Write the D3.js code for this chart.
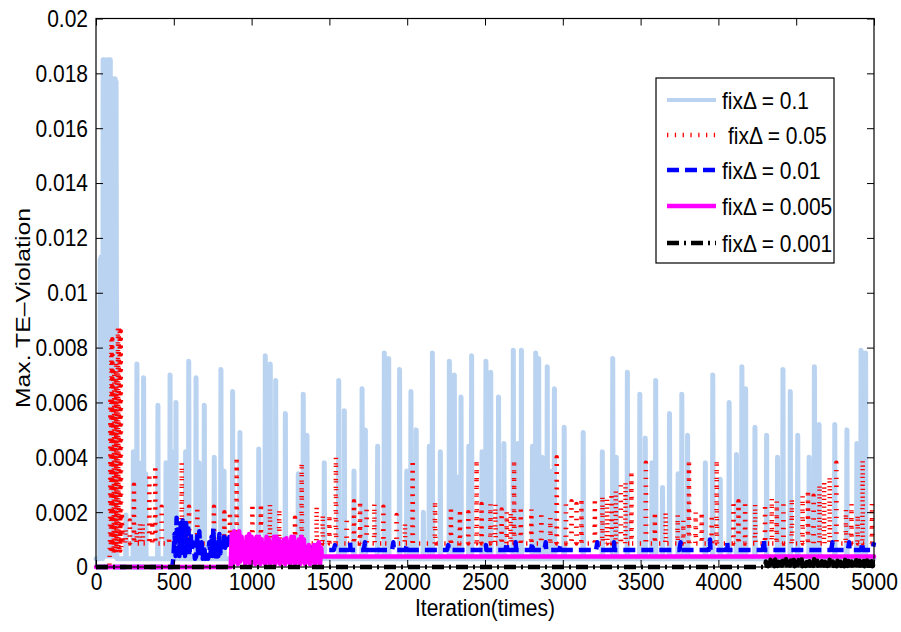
<!DOCTYPE html>
<html lang="en">
<head>
    <meta charset="UTF-8">
    <title>Max. TE-Violation vs iteration</title>
    <script src="https://d3js.org/d3.v7.min.js"></script>
    <style>
        body {
            margin: 0;
            background: #fff;
        }

        svg {
            display: block;
            font-family: 'Liberation Sans', Arial, sans-serif;
        }

        .tick text {
            font-size: 21px;
            fill: #000;
        }

        .tick line {
            stroke: #000;
        }
    </style>
</head>
<body>
    <svg id="chart" width="901" height="632"></svg>

    <script>
        const xTicks = [0, 500, 1000, 1500, 2000, 2500, 3000, 3500, 4000, 4500, 5000];
        const yTicks = [0, 0.002, 0.004, 0.006, 0.008, 0.01, 0.012, 0.014, 0.016, 0.018, 0.02];
        const yTickLabels = ['0', '0.002', '0.004', '0.006', '0.008', '0.01', '0.012', '0.014', '0.016', '0.018', '0.02'];
        const seriesNames = ['fixΔ = 0.1', 'fixΔ = 0.05', 'fixΔ = 0.01', 'fixΔ = 0.005', 'fixΔ = 0.001'];

        // [iteration, max violation]
        const fix0_1 = [
            [0,.0003],[24,.0003],[27,.0112],[30,.0004],[33,.0113],[36,.0005],[39,.0112],[43,.0003],[46,.0185],[49,.0005],
            [52,.0185],[55,.0004],[58,.0184],[62,.0005],[65,.0179],[68,.0004],[72,.0185],[75,.0005],[79,.0185],[82,.0004],
            [86,.0185],[89,.0006],[92,.0185],[95,.0004],[98,.0105],[101,.0005],[104,.0097],[107,.0004],[110,.0097],[113,.0005],
            [117,.0178],[120,.0004],[123,.0178],[126,.0005],[129,.0177],[134,.0003],
            [191,.0003],[193,.0019],[195,.0003],[238,.0003],[240,.0042],[242,.0003],[261,.0003],[263,.0074],[265,.0003],
            [274,.0003],[276,.0038],[278,.0003],[304,.0003],[306,.0069],[308,.0003],[318,.0003],[320,.0034],[322,.0003],
            [396,.0003],[398,.0059],[400,.0003],[448,.0003],[450,.0038],[452,.0003],[474,.0003],[476,.0070],[478,.0003],
            [488,.0003],[490,.0042],[492,.0003],[512,.0003],[514,.0060],[516,.0003],[574,.0003],[576,.0042],[578,.0003],
            [594,.0003],[596,.0075],[598,.0003],[641,.0003],[643,.0069],[645,.0003],[660,.0003],[662,.0038],[664,.0003],
            [694,.0003],[696,.0059],[698,.0003],[758,.0003],[760,.0040],[762,.0003],[801,.0003],[803,.0072],[805,.0003],
            [821,.0003],[823,.0035],[825,.0003],[876,.0003],[878,.0064],[880,.0003],[923,.0003],[925,.0049],[927,.0003],
            [1044,.0003],[1046,.0043],[1048,.0003],[1086,.0003],[1088,.0077],[1090,.0003],[1118,.0003],[1120,.0074],[1122,.0003],
            [1153,.0003],[1155,.0068],[1157,.0003],[1215,.0003],[1217,.0056],[1219,.0003],[1298,.0003],[1300,.0034],[1302,.0003],
            [1330,.0003],[1332,.0063],[1334,.0003],[1354,.0003],[1356,.0048],[1358,.0003],[1465,.0003],[1467,.0038],[1469,.0003],
            [1558,.0003],[1560,.0068],[1562,.0003],[1594,.0003],[1596,.0057],[1598,.0003],[1656,.0003],[1658,.0035],[1660,.0003],
            [1708,.0003],[1710,.0065],[1712,.0003],[1729,.0003],[1731,.0050],[1733,.0003],[1808,.0003],[1810,.0044],[1812,.0003],
            [1851,.0003],[1853,.0078],[1855,.0003],[1879,.0003],[1881,.0076],[1883,.0003],[1949,.0003],[1951,.0072],[1953,.0003],
            [1995,.0003],[1997,.0035],[1999,.0003],[2022,.0003],[2024,.0064],[2026,.0003],[2056,.0003],[2058,.0050],[2060,.0003],
            [2102,.0003],[2104,.0020],[2106,.0003],[2140,.0003],[2142,.0044],[2144,.0003],[2160,.0003],[2162,.0078],[2164,.0003],
            [2211,.0003],[2213,.0042],[2215,.0003],[2269,.0003],[2271,.0075],[2273,.0003],[2301,.0003],[2303,.0070],[2305,.0003],
            [2333,.0003],[2335,.0033],[2337,.0003],[2344,.0003],[2346,.0062],[2348,.0003],[2394,.0003],[2396,.0044],[2398,.0003],
            [2412,.0003],[2414,.0077],[2416,.0003],[2479,.0003],[2481,.0042],[2483,.0003],[2504,.0003],[2506,.0075],[2508,.0003],
            [2535,.0003],[2537,.0071],[2539,.0003],[2585,.0003],[2587,.0062],[2589,.0003],[2620,.0003],[2622,.0045],[2624,.0003],
            [2680,.0003],[2682,.0079],[2684,.0003],[2710,.0003],[2712,.0045],[2714,.0003],[2732,.0003],[2734,.0079],[2736,.0003],
            [2803,.0003],[2805,.0044],[2807,.0003],[2824,.0003],[2826,.0078],[2828,.0003],[2843,.0003],[2845,.0076],[2847,.0003],
            [2866,.0003],[2868,.0040],[2870,.0003],[2898,.0003],[2900,.0073],[2902,.0003],[2915,.0003],[2917,.0035],[2919,.0003],
            [2944,.0003],[2946,.0065],[2948,.0003],[3007,.0003],[3009,.0051],[3011,.0003],[3129,.0003],[3131,.0049],[3133,.0003],
            [3252,.0003],[3254,.0042],[3256,.0003],[3319,.0003],[3321,.0076],[3323,.0003],[3342,.0003],[3344,.0040],[3346,.0003],
            [3413,.0003],[3415,.0071],[3417,.0003],[3493,.0003],[3495,.0063],[3497,.0003],[3528,.0003],[3530,.0047],[3532,.0003],
            [3571,.0003],[3573,.0038],[3575,.0003],[3595,.0003],[3597,.0068],[3599,.0003],[3639,.0003],[3641,.0029],[3643,.0003],
            [3684,.0003],[3686,.0056],[3688,.0003],[3739,.0003],[3741,.0034],[3743,.0003],[3763,.0003],[3765,.0063],[3767,.0003],
            [3800,.0003],[3802,.0048],[3804,.0003],[3914,.0003],[3916,.0038],[3918,.0003],[3962,.0003],[3964,.0070],[3966,.0003],
            [4010,.0003],[4012,.0032],[4014,.0003],[4067,.0003],[4069,.0060],[4071,.0003],[4114,.0003],[4116,.0041],[4118,.0003],
            [4149,.0003],[4151,.0073],[4153,.0003],[4173,.0003],[4175,.0065],[4177,.0003],[4233,.0003],[4235,.0051],[4237,.0003],
            [4308,.0003],[4310,.0048],[4312,.0003],[4378,.0003],[4380,.0040],[4382,.0003],[4413,.0003],[4415,.0072],[4417,.0003],
            [4460,.0003],[4462,.0064],[4464,.0003],[4508,.0003],[4510,.0048],[4512,.0003],[4581,.0003],[4583,.0040],[4585,.0003],
            [4615,.0003],[4617,.0073],[4619,.0003],[4645,.0003],[4647,.0052],[4649,.0003],[4746,.0003],[4748,.0052],[4750,.0003],
            [4824,.0003],[4826,.0050],[4828,.0003],[4888,.0003],[4890,.0045],[4892,.0003],[4915,.0003],[4917,.0079],[4919,.0003],
            [4944,.0003],[4946,.0078],[4948,.0003],[5000,.0003]
        ];

        const fix0_05 = [
            [0,0],[86,0],[90,.0009],[93,.0062],[96,.0006],[99,.0083],[102,.0005],[105,.0083],[108,.0006],[111,.0071],
            [114,.0005],[117,.0072],[120,.0006],[123,.0065],[126,.0005],[129,.0075],[132,.0006],[135,.0069],[138,.0005],[141,.0087],
            [144,.0006],[147,.0088],[150,.0005],[153,.0087],[156,.0006],[159,.0086],[162,.0007],[166,.0020],[170,.00086],
            [188,.00086],[190,.0014],[192,.00086],[216,.00086],[218,.0017],[220,.00086],[242,.00086],[244,.0030],[246,.00086],
            [260,.00086],[262,.0013],[264,.00086],[281,.00086],[283,.0016],[285,.00086],[298,.00086],[300,.0016],[302,.00086],
            [341,.00086],[343,.0034],[345,.00086],[360,.00086],[362,.0015],[364,.00086],[379,.00086],[381,.0037],[383,.00086],
            [420,.00086],[422,.0022],[424,.00086],[468,.00086],[470,.0011],[472,.00086],[549,.00086],[551,.0038],[553,.00086],
            [596,.00086],[598,.0022],[600,.00086],[649,.00086],[651,.0022],[653,.00086],[756,.00086],[758,.0022],[760,.00086],
            [823,.00086],[825,.0020],[827,.00086],[859,.00086],[861,.0020],[863,.00086],[902,.00086],[904,.0040],[906,.00086],
            [1003,.00086],[1005,.0023],[1007,.00086],[1058,.00086],[1060,.0023],[1062,.00086],[1116,.00086],[1118,.0023],[1120,.00086],
            [1176,.00086],[1178,.0021],[1180,.00086],[1277,.00086],[1279,.0018],[1281,.00086],[1320,.00086],[1322,.0038],[1324,.00086],
            [1416,.00086],[1418,.0022],[1420,.00086],[1455,.00086],[1457,.0019],[1459,.00086],[1498,.00086],[1500,.0019],[1502,.00086],
            [1540,.00086],[1542,.0040],[1544,.00086],[1609,.00086],[1611,.0018],[1613,.00086],[1656,.00086],[1658,.0024],[1660,.00086],
            [1695,.00086],[1697,.0024],[1699,.00086],[1737,.00086],[1739,.0022],[1741,.00086],[1787,.00086],[1789,.0023],[1791,.00086],
            [1845,.00086],[1847,.0022],[1849,.00086],[1930,.00086],[1932,.0019],[1934,.00086],[1984,.00086],[1986,.0016],[1988,.00086],
            [2033,.00086],[2035,.0039],[2037,.00086],[2177,.00086],[2179,.0024],[2181,.00086],[2279,.00086],[2281,.0022],[2283,.00086],
            [2337,.00086],[2339,.0021],[2341,.00086],[2391,.00086],[2393,.0020],[2395,.00086],[2444,.00086],[2446,.0039],[2448,.00086],
            [2476,.00086],[2478,.0023],[2480,.00086],[2533,.00086],[2535,.0023],[2537,.00086],[2565,.00086],[2567,.0023],[2569,.00086],
            [2605,.00086],[2607,.0021],[2609,.00086],[2638,.00086],[2640,.0020],[2642,.00086],[2663,.00086],[2665,.0020],[2667,.00086],
            [2685,.00086],[2687,.0039],[2689,.00086],[2728,.00086],[2730,.0022],[2732,.00086],[2796,.00086],[2798,.0021],[2800,.00086],
            [2860,.00086],[2862,.0020],[2864,.00086],[2918,.00086],[2920,.0018],[2922,.00086],[2959,.00086],[2961,.0040],[2963,.00086],
            [3018,.00086],[3020,.0024],[3022,.00086],[3054,.00086],[3056,.0024],[3058,.00086],[3086,.00086],[3088,.0023],[3090,.00086],
            [3118,.00086],[3120,.0025],[3122,.00086],[3204,.00086],[3206,.0025],[3208,.00086],[3253,.00086],[3255,.0026],[3257,.00086],
            [3283,.00086],[3285,.0025],[3287,.00086],[3311,.00086],[3313,.0027],[3315,.00086],[3339,.00086],[3341,.0028],[3343,.00086],
            [3371,.00086],[3373,.0031],[3375,.00086],[3401,.00086],[3403,.0031],[3405,.00086],[3439,.00086],[3441,.0035],[3443,.00086],
            [3532,.00086],[3534,.0038],[3536,.00086],[3590,.00086],[3592,.0020],[3594,.00086],[3659,.00086],[3661,.0020],[3663,.00086],
            [3736,.00086],[3738,.0019],[3740,.00086],[3773,.00086],[3775,.0017],[3777,.00086],[3809,.00086],[3811,.0039],[3813,.00086],
            [3852,.00086],[3854,.0020],[3856,.00086],[3891,.00086],[3893,.0020],[3895,.00086],[3955,.00086],[3957,.0019],[3959,.00086],
            [3987,.00086],[3989,.0039],[3991,.00086],[4095,.00086],[4097,.0024],[4099,.00086],[4127,.00086],[4129,.0024],[4131,.00086],
            [4170,.00086],[4172,.0024],[4174,.00086],[4234,.00086],[4236,.0023],[4238,.00086],[4298,.00086],[4300,.0023],[4302,.00086],
            [4341,.00086],[4343,.0025],[4345,.00086],[4373,.00086],[4375,.0024],[4377,.00086],[4416,.00086],[4418,.0024],[4420,.00086],
            [4470,.00086],[4472,.0025],[4474,.00086],[4539,.00086],[4541,.0026],[4543,.00086],[4574,.00086],[4576,.0028],[4578,.00086],
            [4610,.00086],[4612,.0026],[4614,.00086],[4648,.00086],[4650,.0030],[4652,.00086],[4678,.00086],[4680,.0031],[4682,.00086],
            [4713,.00086],[4715,.0033],[4717,.00086],[4756,.00086],[4758,.0038],[4760,.00086],[4818,.00086],[4820,.0021],[4822,.00086],
            [4853,.00086],[4855,.0023],[4857,.00086],[4893,.00086],[4895,.0019],[4897,.00086],[4925,.00086],[4927,.0039],[4929,.00086],
            [4985,.00086],[4987,.0023],[4989,.00086],[5000,.00086]
        ];

        const fix0_01 = [
            [0,0],[490,0],[497,.0003],[505,.0012],[512,.0004],[518,.0018],[524,.0005],[530,.0015],[536,.0004],[545,.0016],
            [551,.0006],[557,.0017],[562,.0005],[566,.0014],[572,.0004],[579,.0016],[585,.0005],[594,.0014],[600,.0004],[609,.0012],
            [615,.0006],[620,.0008],[625,.0009],[636,.0003],[644,.0004],[651,.0012],[657,.0004],[664,.0013],[670,.0005],[679,.0009],
            [686,.0003],[695,.0008],[703,.0003],[711,.00055],[720,.0003],[728,.0009],[735,.0004],[743,.0011],[748,.0004],[754,.00144],
            [760,.0004],[767,.0009],[773,.0003],[780,.0008],[786,.0004],[793,.0012],[800,.0005],[808,.0009],[815,.0006],[823,.0011],
            [830,.0007],[839,.0011],[845,.0008],[850,.0012],[856,.0009],[861,.0012],[868,.0011],[880,.0007],
            [1140,.0007],[1150,.0009],[1153,.0007],[1420,.0007],[1428,.0009],[1431,.00062],
            [1528,.00062],[1536,.0008],[1539,.00062],[1625,.00062],[1633,.0009],[1636,.00062],[1721,.00062],[1729,.0009],[1732,.00062],
            [1796,.00062],[1804,.0008],[1807,.00062],[1903,.00062],[1911,.0009],[1914,.00062],[1989,.00062],[1997,.0008],[2000,.00062],
            [2256,.00062],[2264,.0008],[2267,.00062],[2498,.00062],[2506,.0008],[2509,.00062],[2632,.00062],[2640,.0009],[2643,.00062],
            [2689,.00062],[2697,.0009],[2700,.00062],[2796,.00062],[2804,.0009],[2807,.00062],[2882,.00062],[2890,.0009],[2893,.00062],
            [2977,.00062],[2985,.0008],[2988,.00062],[3214,.00062],[3222,.0009],[3225,.00062],[3321,.00062],[3329,.0009],[3332,.00062],
            [3749,.00062],[3757,.0009],[3760,.00062],[3938,.00062],[3946,.0010],[3949,.00062],[4049,.00062],[4057,.0009],[4060,.00062],
            [4285,.00062],[4293,.0010],[4296,.00062],[4725,.00062],[4733,.0009],[4736,.00062],[4832,.00062],[4840,.0009],[4843,.00062],
            [4917,.00062],[4925,.0009],[4928,.00062],[4992,.00062],[5000,.0009]
        ];

        const fix0_005 = [
            [0,0],[866,0],[872,.0012],[880,.0001],[888,.0013],[896,.0002],[904,.0012],[912,.0001],[920,.0013],[928,.0002],
            [936,.0011],[944,.0003],[952,.0009],[960,.0001],[968,.0011],[976,.0002],[984,.0012],[992,.0001],[1000,.0011],[1008,.0002],
            [1016,.0010],[1024,.0001],[1032,.0011],[1040,.0002],[1048,.0011],[1056,.0001],[1064,.0010],[1072,.0002],[1080,.0008],[1088,.0001],
            [1096,.0011],[1104,.0002],[1112,.0010],[1120,.0001],[1128,.0008],[1136,.0002],[1144,.0011],[1152,.0001],[1160,.0011],[1168,.0002],
            [1176,.0010],[1184,.0001],[1192,.0009],[1200,.0002],[1208,.0010],[1216,.0001],[1224,.00105],[1232,.0002],[1240,.0009],[1248,.0001],
            [1256,.0011],[1264,.0002],[1272,.0011],[1280,.0001],[1288,.0009],[1296,.0002],[1304,.0010],[1312,.0001],[1320,.0011],[1328,.0002],
            [1336,.0010],[1344,.0001],[1352,.0007],[1360,.0002],[1368,.0008],[1376,.0001],[1384,.0006],[1392,.0002],[1400,.0008],[1408,.0001],
            [1416,.0008],[1424,.0002],[1432,.0009],[1440,.0001],[1446,.0007],[1452,.00038],[5000,.00038]
        ];

        const fix0_001 = [
            [0,0],[4300,0],[4305,.0002],[4310,.00005],[4315,.00024],[4320,.00003],[4325,.00018],[4330,.00006],[4335,.00026],[4340,.00004],
            [4345,.00021],[4350,.00007],[4355,.00016],[4360,.00003],[4365,.00027],[4370,.00005],[4375,.00022],[4380,.00004],[4385,.00019],[4390,.00006],
            [4395,.00025],[4400,.00003],[4405,.0002],[4410,.00005],[4415,.00023],[4420,.00007],[4425,.00017],[4430,.00004],[4435,.00028],[4440,.00006],
            [4445,.00021],[4450,.00003],[4455,.00019],[4460,.00005],[4465,.00024],[4470,.00004],[4475,.00016],[4480,.00006],[4485,.00026],[4490,.00003],
            [4495,.00022],[4500,.00005],[4505,.00018],[4510,.00007],[4515,.00025],[4520,.00004],[4525,.0002],[4530,.00006],[4535,.00027],[4540,.00003],
            [4545,.00019],[4550,.00005],[4555,.00023],[4560,.00004],[4565,.00017],[4570,.00006],[4575,.00026],[4580,.00003],[4585,.00021],[4590,.00005],
            [4595,.00024],[4600,.00007],[4605,.00018],[4610,.00004],[4615,.00028],[4620,.00006],[4625,.0002],[4630,.00003],[4635,.00023],[4640,.00005],
            [4645,.00016],[4650,.00004],[4655,.00025],[4660,.00006],[4665,.00021],[4670,.00003],[4675,.00027],[4680,.00005],[4685,.00019],[4690,.00007],
            [4695,.00024],[4700,.00004],[4705,.00018],[4710,.00006],[4715,.00026],[4720,.00003],[4725,.00022],[4730,.00005],[4735,.0002],[4740,.00004],
            [4745,.00025],[4750,.00006],[4755,.00017],[4760,.00003],[4765,.00023],[4770,.00005],[4775,.00028],[4780,.00007],[4785,.00019],[4790,.00004],
            [4795,.00024],[4800,.00006],[4805,.00021],[4810,.00003],[4815,.00026],[4820,.00005],[4825,.00018],[4830,.00004],[4835,.00022],[4840,.00006],
            [4845,.00027],[4850,.00003],[4855,.0002],[4860,.00005],[4865,.00024],[4870,.00007],[4875,.00017],[4880,.00004],[4885,.00025],[4890,.00006],
            [4895,.00021],[4900,.00003],[4905,.00023],[4910,.00005],[4915,.00019],[4920,.00004],[4925,.00026],[4930,.00006],[4935,.00022],[4940,.00003],
            [4945,.00018],[4950,.00005],[4955,.00024],[4960,.00007],[4965,.0002],[4970,.00004],[4975,.00025],[4980,.00006],[4985,.00021],[4990,.00003],
            [4995,.00017],[5000,.00005]
        ];

        const seriesData = [fix0_1, fix0_05, fix0_01, fix0_005, fix0_001];

        // line styles, same order as seriesData
        const styles = [
            { color: '#b9d3f1', width: 5, legendWidth: 4, dash: null, cap: 'round' },
            { color: '#ff0000', width: 4.5, legendWidth: 4.5, dash: '1.3,6.5', cap: 'butt' },
            { color: '#0000ff', width: 4.5, legendWidth: 4.5, dash: '12,6', cap: 'butt' },
            { color: '#ff00ff', width: 4.5, legendWidth: 4.5, dash: null, cap: 'round' },
            { color: '#000000', width: 4.5, legendWidth: 4.5, dash: '12,5,2,5', cap: 'butt' }
        ];

        // текст на исходнике немного вытянут по вертикали
        const textStretch = 'scale(1,1.18)';

        const svg = d3.select('#chart');
        const plot = { left: 96, right: 874, top: 18.5, bottom: 567 };

        const x = d3.scaleLinear().domain([0, 5000]).range([plot.left, plot.right]);
        const y = d3.scaleLinear().domain([0, 0.02]).range([plot.bottom, plot.top]);

        svg.append('rect')
            .attr('width', 901).attr('height', 632)
            .attr('fill', '#fff');

        // Линии
        const line = d3.line()
            .x(d => x(d[0]))
            .y(d => y(d[1]));

        seriesData.forEach((data, i) => {
            const s = styles[i];
            svg.append('path')
                .datum(data)
                .attr('d', line)
                .attr('fill', 'none')
                .attr('stroke', s.color)
                .attr('stroke-width', s.width)
                .attr('stroke-linejoin', 'round')
                .attr('stroke-linecap', s.cap)
                .attr('stroke-dasharray', s.dash);
        });

        // Оси (тики внутрь, со всех сторон)
        svg.append('g')
            .attr('transform', `translate(0,${plot.bottom})`)
            .call(d3.axisBottom(x).tickValues(xTicks).tickSize(-7).tickPadding(5).tickFormat(d3.format('d')))
            .selectAll('text').attr('transform', textStretch);

        svg.append('g')
            .attr('transform', `translate(0,${plot.top})`)
            .call(d3.axisTop(x).tickValues(xTicks).tickSize(-7).tickFormat(''));

        svg.append('g')
            .attr('transform', `translate(${plot.left},0)`)
            .call(d3.axisLeft(y).tickValues(yTicks).tickSize(-7).tickPadding(8)
                .tickFormat((d, i) => yTickLabels[i]))
            .selectAll('text').attr('transform', textStretch);

        svg.append('g')
            .attr('transform', `translate(${plot.right},0)`)
            .call(d3.axisRight(y).tickValues(yTicks).tickSize(-7).tickFormat(''));

        svg.selectAll('.domain').remove();

        svg.append('rect')
            .attr('x', plot.left).attr('y', plot.top)
            .attr('width', plot.right - plot.left)
            .attr('height', plot.bottom - plot.top)
            .attr('fill', 'none')
            .attr('stroke', '#000')
            .attr('stroke-width', 1.2);

        // Подписи осей
        svg.append('text')
            .attr('transform', `translate(${(plot.left + plot.right) / 2},616) ${textStretch}`)
            .attr('text-anchor', 'middle')
            .style('font-size', '21px')
            .text('Iteration(times)');

        svg.append('text')
            .attr('transform', `translate(30,308) ${textStretch} rotate(-90)`)
            .attr('text-anchor', 'middle')
            .style('font-size', '21px')
            .text('Max. TE–Violation');

        // Легенда
        const legend = svg.append('g');
        legend.append('rect')
            .attr('x', 656).attr('y', 78)
            .attr('width', 178).attr('height', 185)
            .attr('fill', '#fff')
            .attr('stroke', '#000')
            .attr('stroke-width', 1.2);

        const rowY = [100, 135, 170, 206, 243];
        seriesNames.forEach((name, i) => {
            const s = styles[i];
            legend.append('line')
                .attr('x1', 667).attr('x2', 716)
                .attr('y1', rowY[i]).attr('y2', rowY[i])
                .attr('stroke', s.color)
                .attr('stroke-width', s.legendWidth)
                .attr('stroke-dasharray', s.dash);
            legend.append('text')
                .attr('transform', `translate(${i === 1 ? 728 : 722},${rowY[i] + 8.5}) ${textStretch}`)
                .style('font-size', '21px')
                .text(name);
        });
    </script>
</body>
</html>
